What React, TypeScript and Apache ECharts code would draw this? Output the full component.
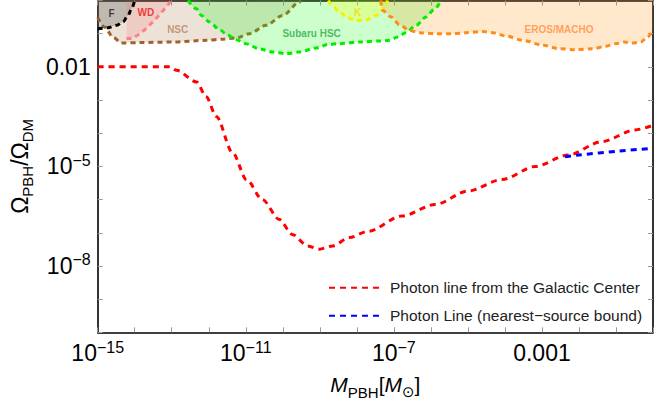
import React, { useEffect, useRef } from "react";
import * as echarts from "echarts";

// ---------- data ----------
const LEGEND_GC = "Photon line from the Galactic Center";
const LEGEND_NS = "Photon Line (nearest\u2212source bound)";

// axes are logarithmic: ranges and labelled decades
const X_RANGE = [1e-15, 1];
const Y_RANGE = [1e-10, 1];
const X_LABEL_EXPONENTS = [-15, -11, -7, -3];
const Y_LABEL_EXPONENTS = [-2, -5, -8];

const photonGC: [number, number][] = [
  [1e-15, 1e-2], [8.9e-14, 1e-2], [1.35e-13, 7.9e-3], [4.7e-13, 3.5e-3],
  [8.5e-13, 1.26e-3], [1.6e-12, 3.2e-4], [4.4e-12, 2.6e-5], [1.05e-11, 4.0e-6],
  [2.8e-11, 1.0e-6], [8.1e-11, 2.5e-7], [1.8e-10, 8.9e-8], [4.7e-10, 4.0e-8],
  [9.8e-10, 3.2e-8], [2.2e-9, 4.0e-8], [6.3e-9, 7.2e-8], [2.0e-8, 1.1e-7],
  [1.66e-7, 3.2e-7], [1.3e-6, 7.1e-7], [1.0e-5, 1.8e-6], [8.3e-5, 4.0e-6],
  [6.6e-4, 1.0e-5], [5.1e-3, 2.2e-5], [4.2e-2, 5.6e-5], [0.33, 1.26e-4], [1, 1.74e-4],
];

const nearestSource: [number, number][] = [
  [4.2e-3, 1.95e-5], [1.0e-2, 2.2e-5], [0.12, 2.9e-5], [1, 3.5e-5],
];

const regionF: [number, number][] = [
  [1e-15, 0.14], [1.86e-15, 0.15], [3.3e-15, 0.178], [4.8e-15, 0.226],
  [6.5e-15, 0.343], [8.3e-15, 0.575], [1.0e-14, 1],
];

const regionWD: [number, number][] = [
  [6.0e-15, 0.071], [7.1e-15, 0.071], [9.8e-14, 1],
];

const regionNSC: [number, number][] = [
  [1e-15, 0.31], [1.55e-15, 0.155], [2.6e-15, 0.078], [4.4e-15, 0.052],
  [1.4e-14, 0.054], [1.07e-13, 0.056], [8.7e-13, 0.063], [2.4e-12, 0.068],
  [5.5e-12, 0.074], [1.26e-11, 0.1], [3.5e-11, 0.178], [1.0e-10, 0.355],
  [2.8e-10, 0.89], [3.0e-10, 1],
];

const regionHSC: [number, number][] = [
  [2.75e-13, 1], [4.7e-13, 0.56], [6.3e-13, 0.355], [1.05e-12, 0.224],
  [1.95e-12, 0.132], [3.3e-12, 0.089], [5.5e-12, 0.066], [1.02e-11, 0.05],
  [2.3e-11, 0.035], [5.4e-11, 0.028], [1.23e-10, 0.025], [2.8e-10, 0.028],
  [7.9e-10, 0.037], [1.66e-9, 0.047], [3.4e-9, 0.05], [1.17e-8, 0.056],
  [4.1e-8, 0.06], [7.6e-8, 0.063], [1.26e-7, 0.079], [2.1e-7, 0.107],
  [4.0e-7, 0.178], [7.4e-7, 0.316], [1.26e-6, 0.56], [1.9e-6, 1],
];

const regionK: [number, number][] = [
  [1.7e-9, 1], [2.0e-9, 0.79], [3.4e-9, 0.45], [5.6e-9, 0.3], [9.5e-9, 0.25],
  [1.78e-8, 0.26], [3.3e-8, 0.355], [5.0e-8, 0.52], [6.2e-8, 0.79], [6.8e-8, 1],
];

const regionEROS: [number, number][] = [
  [4.4e-8, 1], [5.0e-8, 0.5], [8.5e-8, 0.316], [1.4e-7, 0.19], [2.6e-7, 0.126],
  [4.9e-7, 0.107], [1.38e-6, 0.1], [3.9e-6, 0.1], [8.9e-6, 0.107], [2.5e-5, 0.117],
  [4.7e-5, 0.107], [1.07e-4, 0.085], [3.0e-4, 0.063], [1.05e-3, 0.045],
  [2.95e-3, 0.035], [8.3e-3, 0.033], [2.3e-2, 0.035], [5.4e-2, 0.042],
  [0.1, 0.05], [0.166, 0.056], [0.275, 0.052], [0.47, 0.056], [0.71, 0.079], [1, 0.126],
];

const regionLabelNames = ["F", "WD", "NSC", "Subaru HSC", "K", "EROS/MACHO"];
const regionLabelCoords: [number, number][] = [
  [2.35e-15, 0.4], [2.0e-14, 0.45], [1.45e-13, 0.132], [6.0e-10, 0.102],
  [1.05e-8, 0.45], [2.9e-3, 0.135],
];

// ---------- styles ----------
const FONT = '"Liberation Sans", Arial, Helvetica, sans-serif';
const LABEL_COLORS = ["#1a1a1a", "#ee1111", "#b8845c", "#2aa84a", "#e8dc00", "#ff8c3a"];

const tickRich = {
  b: { fontSize: 23, lineHeight: 28, fontFamily: FONT, color: "#000", verticalAlign: "middle" },
  s: { fontSize: 16, lineHeight: 17, fontFamily: FONT, color: "#000", verticalAlign: "top" },
};

// log10 projection so the value axes act as decade (log) axes
const lg = (p: [number, number]) => [Math.log10(p[0]), Math.log10(p[1])];
const proj = (d: [number, number][]) => d.map(lg);

function fmtExp(e: number): string {
  if (e >= -3) return `{b|${Math.pow(10, e).toFixed(-e)}}`;
  return `{b|10}{s|\u2212${-e}}`;
}

function makeFormatter(list: number[]) {
  return (v: number) => {
    const e = Math.round(v);
    return list.indexOf(e) >= 0 ? fmtExp(e) : "";
  };
}

function region(name: string, data: [number, number][], line: string, fill: string, z: number) {
  return {
    type: "line",
    name,
    data: proj(data),
    symbol: "none",
    silent: true,
    smooth: 0.3,
    smoothMonotone: "x",
    z,
    lineStyle: { color: line, width: 3, type: [5, 4] },
    areaStyle: { color: fill, origin: "end", opacity: 1 },
  };
}

export default function App() {
  const ref = useRef<HTMLDivElement>(null);
  useEffect(() => {
    if (!ref.current) return;
    document.body.style.margin = "0";
    const chart = echarts.init(ref.current, null, { renderer: "svg" });
    const tickStyle = { inside: true, length: 5, lineStyle: { color: "#999", width: 1 } };
    const axisLine = { show: true, onZero: false, lineStyle: { color: "#000", width: 1.6 } };
    const xMin = Math.log10(X_RANGE[0]);
    const xMax = Math.log10(X_RANGE[1]);
    const yMin = Math.log10(Y_RANGE[0]);
    const yMax = Math.log10(Y_RANGE[1]);
    const xBase = { type: "value", min: xMin, max: xMax, interval: 1, splitLine: { show: false }, axisLine, axisTick: tickStyle };
    const yBase = { type: "value", min: yMin, max: yMax, interval: 1, splitLine: { show: false }, axisLine, axisTick: tickStyle };
    const option: any = {
      animation: false,
      backgroundColor: "#fff",
      grid: { left: 97.7, right: 19, top: 0.5, bottom: 76.7, containLabel: false, outerBoundsMode: "none" },
      legend: {
        data: [LEGEND_GC, LEGEND_NS],
        orient: "vertical",
        left: 328,
        top: 279.7,
        padding: 0,
        itemWidth: 50,
        itemHeight: 14,
        itemGap: 12,
        selectedMode: false,
        itemStyle: { color: "rgba(0,0,0,0)", borderWidth: 0, opacity: 0 },
        textStyle: { fontFamily: FONT, fontSize: 15.5, color: "#222", lineHeight: 14, padding: [0, 0, 0, 6] },
      },
      xAxis: [
        {
          ...xBase,
          position: "bottom",
          axisLabel: { formatter: makeFormatter(X_LABEL_EXPONENTS), rich: tickRich, margin: 7, showMinLabel: true, showMaxLabel: true },
          name: "{i|M}{sub|PBH}{t|[}{i|M}{sun|\u2299}{t|]}",
          nameLocation: "middle",
          nameGap: 37.3,
          nameTextStyle: {
            rich: {
              i: { fontSize: 21, fontStyle: "italic", fontFamily: FONT, lineHeight: 30, verticalAlign: "middle", color: "#000" },
              t: { fontSize: 21, fontFamily: FONT, lineHeight: 30, verticalAlign: "middle", color: "#000" },
              sub: { fontSize: 15, fontFamily: FONT, lineHeight: 16, verticalAlign: "bottom", color: "#000" },
              sun: { fontSize: 15, fontFamily: '"DejaVu Sans"', lineHeight: 16, verticalAlign: "bottom", color: "#000" },
            },
          },
        },
        { ...xBase, position: "top", axisLabel: { show: false } },
      ],
      yAxis: [
        {
          ...yBase,
          position: "left",
          axisLabel: { formatter: makeFormatter(Y_LABEL_EXPONENTS), rich: tickRich, margin: 7, showMinLabel: true, showMaxLabel: true },
          name: "{o|\u03a9}{sub|PBH}{o|/\u03a9}{sub|DM}",
          nameLocation: "middle",
          nameRotate: 90,
          nameGap: 59.4,
          nameTextStyle: {
            rich: {
              o: { fontSize: 23, fontFamily: FONT, lineHeight: 30, verticalAlign: "middle", color: "#000" },
              sub: { fontSize: 15, fontFamily: FONT, lineHeight: 16, verticalAlign: "bottom", color: "#000" },
            },
          },
        },
        { ...yBase, position: "right", axisLabel: { show: false } },
      ],
      series: [
        region("NSC", regionNSC, "#a0622d", "rgba(165,110,60,0.2)", 1),
        region("F", regionF, "#000000", "rgba(90,90,90,0.3)", 2),
        region("WD", regionWD, "#ff8080", "rgba(255,80,80,0.15)", 2),
        region("Subaru HSC", regionHSC, "#00ee00", "rgba(0,255,0,0.2)", 2),
        region("K", regionK, "#f5f000", "rgba(255,255,0,0.25)", 2),
        region("EROS/MACHO", regionEROS, "#ff8c1a", "rgba(255,140,0,0.2)", 2),
        {
          type: "line", name: LEGEND_GC, data: proj(photonGC), symbol: "none", z: 5,
          smooth: 0.3, smoothMonotone: "x",
          color: "#ff0000",
          lineStyle: { color: "#ff0000", width: 3, type: [6, 5] },
        },
        {
          type: "line", name: LEGEND_NS, data: proj(nearestSource), symbol: "none", z: 5,
          smooth: 0.3,
          color: "#0000ff",
          lineStyle: { color: "#0000ff", width: 3, type: [6, 5] },
        },
        {
          type: "scatter", name: "labels", symbolSize: 0, silent: true, z: 10,
          data: regionLabelNames.map((n, i) => ({
            name: n,
            value: lg(regionLabelCoords[i]),
            label: {
              show: true, position: "inside", formatter: n, color: LABEL_COLORS[i],
              fontSize: 10, fontWeight: "bold", fontFamily: FONT,
            },
          })),
        },
      ],
    };
    chart.setOption(option);
    return () => chart.dispose();
  }, []);
  return <div ref={ref} style={{ width: 672, height: 409 }} />;
}
